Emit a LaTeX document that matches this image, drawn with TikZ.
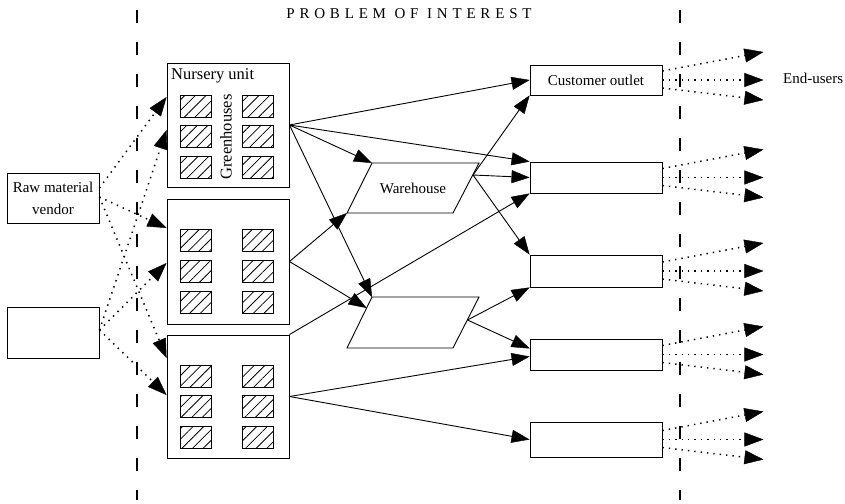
\documentclass[tikz,border=0pt]{standalone}
\usepackage{fontspec}
\setmainfont{Liberation Serif}
\usetikzlibrary{arrows.meta,patterns.meta}
\begin{document}
\begin{tikzpicture}[x=1pt,y=-1pt,
  box/.style={draw, line width=0.9pt, inner sep=0pt},
  lbl/.style={font=\fontsize{15}{22}\selectfont},
  solidarr/.style={-{Triangle[length=18pt,width=13pt,line width=0.4pt]}, line width=0.9pt},
  dotarr/.style={-{Triangle[length=19pt,width=14pt,line width=0.4pt]}, line width=1.5pt, dash pattern=on 1.4pt off 5pt},
  boundary/.style={line width=2.4pt, dash pattern=on 13pt off 19pt},
  gh/.style={draw, line width=0.9pt, minimum width=31pt, minimum height=22pt, inner sep=0pt,
    pattern={Lines[angle=45,distance=7.5pt,line width=0.8pt]}},
  para/.style={draw, line width=0.9pt, line join=miter},
]
\useasboundingbox (0,0) rectangle (845,503);

% boundary lines
\coordinate (bl1) at (137,10); \coordinate (bl2) at (137,500);
\coordinate (br1) at (680,10); \coordinate (br2) at (680,500);
\draw[boundary] (bl1) -- (bl2);
\draw[boundary] (br1) -- (br2);
\node[font=\fontsize{15}{17}\selectfont\addfontfeature{LetterSpace=32}] (title) at (409,14) {PROBLEM OF INTEREST};

% sources
\node[box, minimum width=92pt, minimum height=50pt, align=center, lbl] (vendor) at (53,198) {Raw material\\vendor};
\node[box, minimum width=92pt, minimum height=51pt] (src2) at (53,332.5) {};

% nursery units
\node[box, minimum width=122pt, minimum height=124pt] (nu1) at (228,125) {};
\node[box, minimum width=122pt, minimum height=125pt] (nu2) at (228,261.5) {};
\node[box, minimum width=122pt, minimum height=123pt] (nu3) at (228,396.5) {};
\node[anchor=base west, font=\fontsize{16.5}{18}\selectfont, inner sep=0pt] (nulabel) at (171,79) {Nursery unit};
\node[rotate=90, font=\fontsize{16.5}{18}\selectfont, inner sep=0pt] (ghlabel) at (226,137) {Greenhouses};

\foreach \u/\ya/\yb/\yc in {1/106/136.5/167.5, 2/240.5/271/302, 3/376/406/437.5} {
  \foreach \r/\y in {1/\ya, 2/\yb, 3/\yc} {
    \node[gh] (g-\u-\r-a) at (195.5,\y) {};
    \node[gh] (g-\u-\r-b) at (257.5,\y) {};
  }
}

% warehouse and second distribution centre
\coordinate (wTL) at (372,163); \coordinate (wTR) at (479,163);
\coordinate (wBR) at (453,213); \coordinate (wBL) at (347,213);
\coordinate (wR) at (473,175);
\draw[para] (wTL) -- (wTR) -- (wBR) -- (wBL) -- cycle;
\node[lbl] (warehouse) at (413,188) {Warehouse};

\coordinate (pTL) at (372,297); \coordinate (pTR) at (479,297);
\coordinate (pBR) at (453,348); \coordinate (pBL) at (347,348);
\coordinate (pR) at (467.5,320); \coordinate (pL) at (366.6,308);
\draw[para] (pTL) -- (pTR) -- (pBR) -- (pBL) -- cycle;

% outlets
\node[box, minimum width=132pt, minimum height=30pt, lbl] (o1) at (596,80) {Customer outlet};
\node[box, minimum width=132pt, minimum height=31pt] (o2) at (596,177.5) {};
\node[box, minimum width=132pt, minimum height=32pt] (o3) at (596,271) {};
\node[box, minimum width=132pt, minimum height=31pt] (o4) at (596,354.5) {};
\node[box, minimum width=132pt, minimum height=35pt] (o5) at (596,439.5) {};
\node[lbl, anchor=west, inner sep=0pt] (endusers) at (783,78) {End-users};

% raw material flows
\draw[dotarr] ([yshift=10pt]vendor.east) -- ([yshift=28pt]nu1.west);
\draw[dotarr] ([yshift=1pt]vendor.east) -- ([yshift=33.5pt]nu2.west);
\draw[dotarr] ([yshift=1pt]vendor.east) -- ([yshift=38.5pt]nu3.west);
\draw[dotarr] ([yshift=2.5pt]src2.east) -- ([yshift=-5pt]nu1.west);
\draw[dotarr] ([yshift=2.5pt]src2.east) -- ([yshift=-1.5pt]nu2.west);
\draw[dotarr] ([yshift=2.5pt]src2.east) -- ([yshift=1.5pt]nu3.west);

% product flows
\draw[solidarr] (nu1.east) -- (o1.west);
\draw[solidarr] (nu1.east) -- (wTL);
\draw[solidarr] (nu1.east) -- (o2.north west);
\draw[solidarr] (nu1.east) -- (pTL);
\draw[solidarr] (nu2.east) -- (wBL);
\draw[solidarr] (nu2.east) -- (pL);
\draw[solidarr] (nu3.north east) -- (o2.south west);
\draw[solidarr] (nu3.east) -- ([yshift=-2pt]o4.west);
\draw[solidarr] (nu3.east) -- (o5.west);
\draw[solidarr] (wR) -- (o1.south west);
\draw[solidarr] (wR) -- (o2.west);
\draw[solidarr] (wR) -- (o3.north west);
\draw[solidarr] (pR) -- (o3.south west);
\draw[solidarr] (pR) -- ([yshift=6pt]o4.west);

% flows to end-users
\foreach \i in {1,...,5} {
  \draw[dotarr] ([yshift=9pt]o\i.east) -- ([xshift=101pt,yshift=28pt]o\i.east);
  \draw[dotarr] (o\i.east) -- ([xshift=101pt]o\i.east);
  \draw[dotarr] ([yshift=-8pt]o\i.east) -- ([xshift=101pt,yshift=-20pt]o\i.east);
}
\end{tikzpicture}
\end{document}
